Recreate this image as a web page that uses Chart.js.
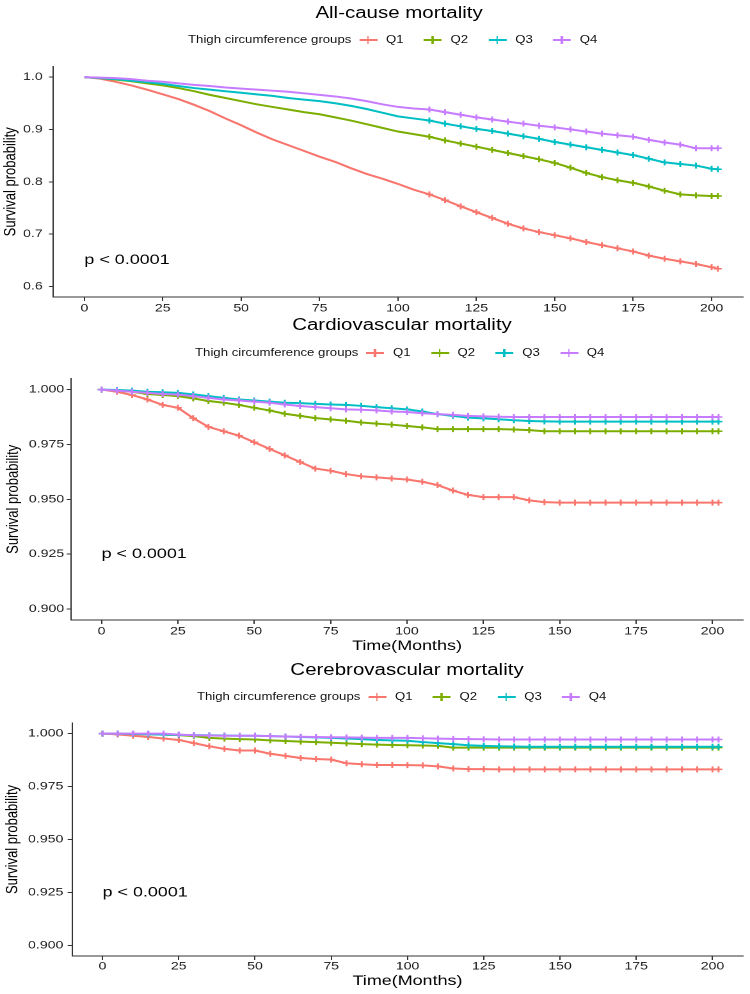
<!DOCTYPE html>
<html><head><meta charset="utf-8">
<script src="https://cdn.jsdelivr.net/npm/chart.js@4.4.1/dist/chart.umd.min.js"></script>
<style>
html,body{margin:0;padding:0;background:#fff;}
body{width:750px;height:994px;overflow:hidden;position:relative;}
#stage{position:absolute;left:0;top:0;width:586px;height:994px;transform:scaleX(1.27986);transform-origin:0 0;font-family:"Liberation Sans",Arial,sans-serif;color:#000;}
.title{position:absolute;width:300px;text-align:center;font-size:16px;line-height:20px;white-space:nowrap;}
.legend{position:absolute;height:14px;display:flex;align-items:center;font-size:10.3px;line-height:14px;white-space:nowrap;color:#111;}
.legend .lt{margin-right:6px;}
.item{display:flex;align-items:center;width:50.5px;}
.key{position:relative;width:14px;height:8px;margin-right:7px;}
.key::before{content:"";position:absolute;left:0;right:0;top:3.3px;height:1.4px;background:var(--c);}
.key::after{content:"";position:absolute;left:6.3px;width:1.3px;top:0;bottom:0;background:var(--c);}
canvas{position:absolute;left:0;}
</style></head>
<body>
<div id="stage">
  <div class="title" style="left:161.8px;top:3px">All-cause mortality</div>
  <div class="legend" id="lg1" style="left:146.9px;top:33px"></div>
  <canvas id="c1" width="586" height="267" style="top:55px"></canvas>

  <div class="title" style="left:164.1px;top:315px">Cardiovascular mortality</div>
  <div class="legend" id="lg2" style="left:152.4px;top:346px"></div>
  <canvas id="c2" width="586" height="290" style="top:370px"></canvas>

  <div class="title" style="left:168px;top:660px">Cerebrovascular mortality</div>
  <div class="legend" id="lg3" style="left:153.9px;top:690px"></div>
  <canvas id="c3" width="586" height="281" style="top:713px"></canvas>
</div>
<script>
// ---- data ----
const months = [0,5,10,15,20,25,30,35,40,45,50,55,60,65,70,75,80,85,90,95,100,105,110,115,120,125,130,135,140,145,150,155,160,165,170,175,180,185,190,195,200,202];
const groups = ['Q1','Q2','Q3','Q4'];
const groupColors = ['#F8766D','#7CAE00','#00BFC4','#C77CFF'];
const legendTitle = 'Thigh circumference groups';
const xTicks = [0,25,50,75,100,125,150,175,200];
const yTicksAll = [0.6,0.7,0.8,0.9,1.0];
const yTicksSmall = [0.900,0.925,0.950,0.975,1.000];
const pValueText = 'p < 0.0001';

// All-cause mortality
const allQ1 = [1.000,0.997,0.991,0.984,0.976,0.967,0.958,0.947,0.935,0.921,0.908,0.894,0.881,0.870,0.859,0.848,0.838,0.826,0.815,0.806,0.796,0.785,0.776,0.765,0.753,0.742,0.731,0.720,0.711,0.704,0.698,0.692,0.685,0.679,0.673,0.667,0.659,0.653,0.648,0.643,0.637,0.634];
const allQ2 = [1.000,0.998,0.995,0.992,0.988,0.984,0.979,0.973,0.966,0.960,0.954,0.948,0.943,0.938,0.933,0.929,0.923,0.917,0.910,0.903,0.896,0.891,0.886,0.879,0.873,0.867,0.861,0.855,0.849,0.843,0.836,0.827,0.817,0.809,0.803,0.798,0.791,0.783,0.776,0.774,0.773,0.773];
const allQ3 = [1.000,0.998,0.996,0.993,0.990,0.987,0.983,0.979,0.976,0.973,0.970,0.967,0.964,0.960,0.957,0.954,0.950,0.945,0.939,0.932,0.925,0.921,0.917,0.911,0.906,0.901,0.897,0.892,0.887,0.882,0.876,0.871,0.866,0.861,0.856,0.851,0.844,0.837,0.834,0.831,0.825,0.824];
const allQ4 = [1.000,0.999,0.998,0.996,0.993,0.991,0.988,0.985,0.983,0.980,0.978,0.976,0.974,0.972,0.969,0.966,0.963,0.959,0.954,0.948,0.943,0.940,0.938,0.933,0.928,0.923,0.919,0.915,0.911,0.907,0.904,0.900,0.896,0.892,0.889,0.886,0.880,0.875,0.871,0.864,0.864,0.864];

// Cardiovascular mortality
const cvdQ1 = [1.0000,0.9990,0.9975,0.9955,0.9930,0.9917,0.9870,0.9830,0.9810,0.9790,0.9760,0.9730,0.9700,0.9670,0.9640,0.9630,0.9615,0.9605,0.9600,0.9595,0.9590,0.9580,0.9565,0.9540,0.9520,0.9510,0.9510,0.9510,0.9495,0.9487,0.9485,0.9485,0.9485,0.9485,0.9485,0.9485,0.9485,0.9485,0.9485,0.9485,0.9485,0.9485];
const cvdQ2 = [1.0000,0.9995,0.9990,0.9980,0.9975,0.9970,0.9960,0.9948,0.9940,0.9930,0.9917,0.9905,0.9890,0.9880,0.9870,0.9864,0.9858,0.9850,0.9845,0.9840,0.9834,0.9828,0.9820,0.9820,0.9820,0.9820,0.9820,0.9818,0.9815,0.9810,0.9810,0.9810,0.9810,0.9810,0.9810,0.9810,0.9810,0.9810,0.9810,0.9810,0.9810,0.9810];
const cvdQ3 = [1.0000,0.9998,0.9995,0.9990,0.9988,0.9985,0.9978,0.9970,0.9962,0.9955,0.9950,0.9945,0.9940,0.9938,0.9935,0.9932,0.9930,0.9926,0.9920,0.9915,0.9910,0.9900,0.9888,0.9880,0.9872,0.9869,0.9865,0.9860,0.9857,0.9855,0.9854,0.9854,0.9854,0.9854,0.9854,0.9854,0.9854,0.9854,0.9854,0.9854,0.9854,0.9854];
const cvdQ4 = [1.0000,0.9995,0.9990,0.9985,0.9980,0.9977,0.9970,0.9962,0.9955,0.9950,0.9945,0.9940,0.9932,0.9925,0.9920,0.9915,0.9910,0.9908,0.9905,0.9900,0.9898,0.9892,0.9888,0.9885,0.9880,0.9878,0.9876,0.9875,0.9875,0.9875,0.9875,0.9875,0.9875,0.9875,0.9875,0.9875,0.9875,0.9875,0.9875,0.9875,0.9875,0.9875];

// Cerebrovascular mortality
const cerQ1 = [1.0000,0.9996,0.9990,0.9984,0.9977,0.9970,0.9955,0.9940,0.9928,0.9920,0.9920,0.9905,0.9895,0.9885,0.9880,0.9877,0.9860,0.9855,0.9852,0.9852,0.9851,0.9850,0.9845,0.9835,0.9832,0.9832,0.9831,0.9831,0.9831,0.9831,0.9831,0.9831,0.9831,0.9831,0.9831,0.9831,0.9831,0.9831,0.9831,0.9831,0.9831,0.9831];
const cerQ2 = [1.0000,1.0000,0.9998,0.9997,0.9995,0.9993,0.9988,0.9980,0.9976,0.9974,0.9972,0.9968,0.9965,0.9962,0.9960,0.9957,0.9954,0.9950,0.9948,0.9946,0.9945,0.9944,0.9942,0.9934,0.9934,0.9934,0.9934,0.9934,0.9934,0.9934,0.9934,0.9934,0.9934,0.9934,0.9934,0.9934,0.9934,0.9934,0.9934,0.9934,0.9934,0.9934];
const cerQ3 = [1.0000,1.0000,0.9998,0.9997,0.9995,0.9994,0.9993,0.9992,0.9991,0.9990,0.9990,0.9988,0.9986,0.9984,0.9982,0.9980,0.9977,0.9974,0.9970,0.9968,0.9966,0.9960,0.9955,0.9950,0.9945,0.9942,0.9940,0.9939,0.9938,0.9938,0.9938,0.9938,0.9938,0.9938,0.9938,0.9938,0.9938,0.9938,0.9938,0.9938,0.9938,0.9938];
const cerQ4 = [1.0000,1.0000,1.0000,1.0000,1.0000,0.9995,0.9992,0.9991,0.9990,0.9990,0.9990,0.9988,0.9986,0.9985,0.9984,0.9983,0.9982,0.9981,0.9980,0.9980,0.9980,0.9978,0.9976,0.9975,0.9974,0.9973,0.9972,0.9972,0.9972,0.9972,0.9972,0.9972,0.9972,0.9972,0.9972,0.9972,0.9972,0.9972,0.9972,0.9972,0.9972,0.9972];

// ---- legends ----
function buildLegend(id){
  const el = document.getElementById(id);
  let h = '<span class="lt">'+legendTitle+'</span>';
  groups.forEach((g,i)=>{ h += '<span class="item"><span class="key" style="--c:'+groupColors[i]+'"></span><span>'+g+'</span></span>'; });
  el.innerHTML = h;
}
['lg1','lg2','lg3'].forEach(buildLegend);

// ---- charts ----
const family = '"Liberation Sans", Arial, sans-serif';
const axisColor = '#333333';
const tickColor = '#1a1a1a';

const pvalPlugin = {
  id: 'pval',
  afterDatasetsDraw(chart, args, opts){
    const {ctx, scales:{x, y}} = chart;
    ctx.save();
    ctx.font = '14px ' + family;
    ctx.fillStyle = '#000';
    ctx.textAlign = 'left';
    ctx.textBaseline = 'middle';
    ctx.fillText(pValueText, x.getPixelForValue(0), y.getPixelForValue(opts.y));
    ctx.restore();
  }
};

function panel(id, series, o){
  return new Chart(document.getElementById(id), {
    type: 'line',
    data: {
      datasets: series.map((vals, i) => ({
        label: groups[i],
        data: months.map((m, j) => ({x: m, y: vals[j]})),
        borderColor: groupColors[i],
        backgroundColor: groupColors[i],
        pointBorderColor: groupColors[i],
        borderWidth: 2,
        pointStyle: 'cross',
        pointRadius: c => (months[c.dataIndex] >= o.markFrom ? 3 : 0),
        pointBorderWidth: 1.5,
        tension: 0,
        fill: false,
        order: 4 - i
      }))
    },
    options: {
      responsive: false,
      animation: false,
      devicePixelRatio: 2,
      layout: {padding: {top: 8, right: 5.5, left: 0, bottom: 0}},
      plugins: {legend: {display: false}, tooltip: {enabled: false}, pval: {y: o.pY}},
      scales: {
        x: {
          type: 'linear', min: -10, max: 210,
          afterBuildTicks: s => { s.ticks = xTicks.map(v => ({value: v})); },
          afterFit: s => { s.height = o.xHeight; },
          grid: {drawOnChartArea: false, drawTicks: true, tickLength: 4, color: axisColor, lineWidth: 1},
          border: {display: true, color: axisColor, width: 1},
          ticks: {font: {family, size: 11}, color: tickColor, padding: o.xPad, maxRotation: 0, autoSkip: false, callback: v => String(v)},
          title: {display: o.xTitle, text: 'Time(Months)', font: {family, size: 14}, color: '#000', padding: {top: 0, bottom: o.xTitlePad}}
        },
        y: {
          type: 'linear', min: o.yMin, max: o.yMax,
          afterBuildTicks: s => { s.ticks = o.yTicks.map(v => ({value: v})); },
          afterFit: s => { s.width = o.yWidth; },
          grid: {drawOnChartArea: false, drawTicks: true, tickLength: o.yTickLen, color: axisColor, lineWidth: 1},
          border: {display: true, color: axisColor, width: 1},
          ticks: {font: {family, size: 11}, color: tickColor, padding: o.yPad, autoSkip: false, callback: v => v.toFixed(o.yDigits)},
          title: {display: true, text: 'Survival probability', font: {family, size: 13}, color: '#000', padding: {top: o.yTitlePad, bottom: 0}}
        }
      }
    },
    plugins: [pvalPlugin]
  });
}

panel('c1', [allQ1, allQ2, allQ3, allQ4], {markFrom: 108, pY: 0.65, xHeight: 25, xPad: 1, xTitle: false, xTitlePad: 0,
  yMin: 0.58, yMax: 1.02, yTicks: yTicksAll, yWidth: 41.41, yTickLen: 3.1, yPad: 5, yDigits: 1, yTitlePad: 0.8});
panel('c2', [cvdQ1, cvdQ2, cvdQ3, cvdQ4], {markFrom: 0, pY: 0.925, xHeight: 40, xPad: 1, xTitle: true, xTitlePad: 5.6,
  yMin: 0.895, yMax: 1.005, yTicks: yTicksSmall, yWidth: 55.47, yTickLen: 3.4, yPad: 2, yDigits: 3, yTitlePad: 2.6});
panel('c3', [cerQ1, cerQ2, cerQ3, cerQ4], {markFrom: 0, pY: 0.925, xHeight: 38, xPad: 0, xTitle: true, xTitlePad: 4.6,
  yMin: 0.895, yMax: 1.005, yTicks: yTicksSmall, yWidth: 56.26, yTickLen: 3.4, yPad: 3.4, yDigits: 3, yTitlePad: 2.1});
</script>
</body></html>
